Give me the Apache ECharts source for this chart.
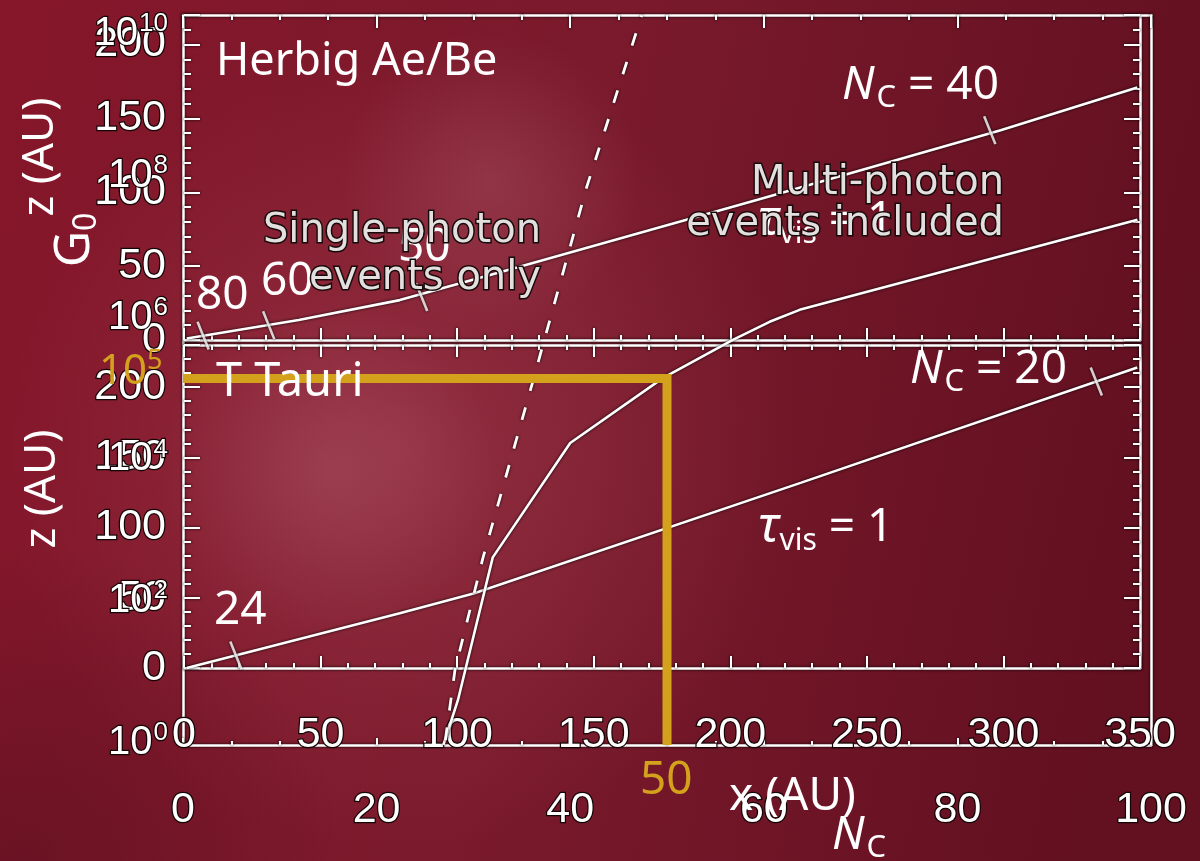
<!DOCTYPE html>
<html>
<head>
<meta charset="utf-8">
<title>Herbig Ae/Be and T Tauri discs</title>
<script src="https://cdn.jsdelivr.net/npm/echarts@6/dist/echarts.min.js"></script>
<style>
html,body{margin:0;padding:0;background:#6d1424;}
#chart{width:1200px;height:861px;}
</style>
</head>
<body>
<div id="chart"></div>
<script>
// ---------------- data ----------------
// tick labels
const xAuTicks = [0, 50, 100, 150, 200, 250, 300, 350];   // x (AU)
const zAuTicks = [0, 50, 100, 150, 200];                  // z (AU)
const ncTicks = [0, 20, 40, 60, 80, 100];                 // N_C
const g0Exponents = [0, 2, 4, 6, 8, 10];                  // G_0 = 10^n

// Herbig Ae/Be panel: surface curve (x, z in AU)
const herbigX = [1, 42, 79, 116, 210, 299, 349];
const herbigZ = [1, 13.5, 27, 46, 95, 142, 171];
// N_C markers on it (80, 60, 50, 40)
const herbigMarkX = [7, 31, 87, 295];
const herbigMarkZ = [3, 10, 29, 142];

// T Tauri panel: surface curve
const tauriX = [1, 79, 106, 226, 349];
const tauriZ = [0, 39, 53, 132, 214];
// N_C markers on it (24, 20)
const tauriMarkX = [19, 334];
const tauriMarkZ = [9, 204];

// G0 vs N_C : solid curve
const solidNc = [26.9, 28.4, 32.0, 40.0, 49.6, 56.8, 60.6, 63.7, 98.6];
const solidG0 = [0.68, 2.9, 300, 1.23e4, 1.02e5, 3.5e5, 6.3e5, 9.3e5, 1.74e7];
// single- / multi-photon boundary (dashed)
const dashNc = [27.1, 28.1, 31.0, 36.1, 41.7, 47.4];
const dashG0 = [0.79, 7.8, 300, 8.7e4, 5.0e7, 1.34e10];
// highlighted point (N_C = 50, G0 = 1e5), vertical leg down to the frame bottom
const highlightNc = 50;
const highlightG0 = 1e5;
const frameBottomG0 = 0.676;

// ---------------- chart ----------------
const zip = (a, b) => a.map((v, i) => [v, b[i]]);

const W = '#ffffff';
const YEL = '#d4a11c';
const FONT_IDL = '"Liberation Sans", Arial, sans-serif';
const outline = { textBorderColor: '#140606', textBorderWidth: 2.5 };
const shadow = { shadowColor: 'rgba(0,0,0,0.95)', shadowBlur: 3 };
const axisLine = { show: true, onZero: false, lineStyle: Object.assign({ color: W, width: 2.5 }, shadow) };
const noLine = { show: false, onZero: false };
const tickStyle = Object.assign({ color: W, width: 2 }, shadow);
const idlLabel = Object.assign({ color: W, fontFamily: FONT_IDL, fontSize: 43 }, outline);
const off = { axisTick: { show: false }, minorTick: { show: false }, splitLine: { show: false }, axisLabel: { show: false } };

function ticks(len, minorLen, split) {
  return {
    axisTick: { show: true, inside: true, length: len, lineStyle: tickStyle },
    minorTick: { show: true, splitNumber: split, length: minorLen, lineStyle: tickStyle }
  };
}

const xAxes = [
  // 0: frame bottom, N_C labels
  Object.assign({
    gridIndex: 0, type: 'value', min: 0, max: 100, interval: 20, position: 'bottom',
    axisLine: axisLine, splitLine: { show: false },
    axisLabel: Object.assign({ margin: 65, verticalAlign: 'middle',
      formatter: v => ncTicks.includes(v) ? String(v) : '' }, idlLabel)
  }, ticks(7, 4, 4)),
  // 1: frame top
  Object.assign({
    gridIndex: 0, type: 'value', min: 0, max: 100, interval: 20, position: 'top',
    axisLine: axisLine, splitLine: { show: false }, axisLabel: { show: false }
  }, ticks(13, 5, 4)),
  // 2: Herbig bottom
  Object.assign({
    gridIndex: 1, type: 'value', min: 0, max: 350, interval: 50, position: 'bottom',
    axisLine: axisLine, splitLine: { show: false }, axisLabel: { show: false }
  }, ticks(12, 5, 5)),
  // 3: T Tauri top
  Object.assign({
    gridIndex: 2, type: 'value', min: 0, max: 350, interval: 50, position: 'top',
    axisLine: axisLine, splitLine: { show: false }, axisLabel: { show: false }
  }, ticks(12, 5, 5)),
  // 4: T Tauri bottom with x (AU) labels
  Object.assign({
    gridIndex: 2, type: 'value', min: 0, max: 350, interval: 50, position: 'bottom',
    axisLine: axisLine, splitLine: { show: false },
    axisLabel: Object.assign({ margin: 67, verticalAlign: 'middle',
      formatter: v => xAuTicks.includes(v) ? String(v) : '' }, idlLabel)
  }, ticks(12, 5, 5)),
  // 5: G0 chart N_C axis (hidden, drawn by frame)
  Object.assign({ gridIndex: 3, type: 'value', min: 0, max: 100, interval: 20, axisLine: noLine }, off)
];

const yAxes = [
  // 0/1: frame left/right lines
  Object.assign({ gridIndex: 0, type: 'value', min: 0, max: 1, position: 'left', axisLine: axisLine }, off),
  Object.assign({ gridIndex: 0, type: 'value', min: 0, max: 1, position: 'right', axisLine: axisLine }, off),
  // 2/3: Herbig z
  Object.assign({
    gridIndex: 1, type: 'value', min: 0, max: 220, interval: 50, position: 'left',
    axisLine: noLine, splitLine: { show: false },
    axisLabel: Object.assign({ margin: 18, padding: [14, 0, 0, 0],
      formatter: v => zAuTicks.includes(v) ? String(v) : '' }, idlLabel)
  }, ticks(16, 7, 5)),
  Object.assign({
    gridIndex: 1, type: 'value', min: 0, max: 220, interval: 50, position: 'right',
    axisLine: axisLine, splitLine: { show: false }, axisLabel: { show: false }
  }, ticks(16, 7, 5)),
  // 4/5: T Tauri z
  Object.assign({
    gridIndex: 2, type: 'value', min: 0, max: 230, interval: 50, position: 'left',
    axisLine: noLine, splitLine: { show: false },
    axisLabel: Object.assign({ margin: 18,
      formatter: v => zAuTicks.includes(v) ? String(v) : '' }, idlLabel)
  }, ticks(16, 7, 5)),
  Object.assign({
    gridIndex: 2, type: 'value', min: 0, max: 230, interval: 50, position: 'right',
    axisLine: axisLine, splitLine: { show: false }, axisLabel: { show: false }
  }, ticks(16, 7, 5)),
  // 6: G0 log axis (data)
  Object.assign({ gridIndex: 3, type: 'log', logBase: 10, min: 1, max: 1e10, position: 'left', axisLine: noLine }, off),
  // 7: G0 decade labels (exponent scale, same geometry as axis 6)
  {
    gridIndex: 3, type: 'value', min: 0, max: 10, interval: 2, position: 'left',
    axisLine: noLine, axisTick: { show: false }, minorTick: { show: false }, splitLine: { show: false },
    axisLabel: {
      margin: 15, padding: [20, 0, 0, 0],
      formatter: v => g0Exponents.includes(v) ? '{b|10}{s|' + v + '}' : '',
      rich: {
        b: Object.assign({ color: W, fontFamily: FONT_IDL, fontSize: 40, lineHeight: 46 }, outline),
        s: Object.assign({ color: W, fontFamily: FONT_IDL, fontSize: 26, lineHeight: 46, verticalAlign: 'top', padding: [0, 0, 0, 1] }, outline)
      }
    }
  }
];

const whiteLine = Object.assign({ color: W, width: 2.6 }, shadow);
const lineSeries = (name, data, xi, yi, extra) => Object.assign({
  name, type: 'line', data, xAxisIndex: xi, yAxisIndex: yi,
  symbol: 'none', showSymbol: false, silent: true, clip: false, z: 5,
  lineStyle: whiteLine
}, extra || {});
const markSeries = (name, data, xi, yi) => ({
  name, type: 'scatter', data, xAxisIndex: xi, yAxisIndex: yi, silent: true, z: 6,
  symbol: 'rect', symbolSize: [2.6, 30], symbolRotate: 22,
  itemStyle: Object.assign({ color: W }, shadow)
});

const series = [
  lineSeries('Herbig Ae/Be', zip(herbigX, herbigZ), 2, 2),
  markSeries('Herbig N_C marks', zip(herbigMarkX, herbigMarkZ), 2, 2),
  lineSeries('T Tauri', zip(tauriX, tauriZ), 4, 4),
  markSeries('T Tauri N_C marks', zip(tauriMarkX, tauriMarkZ), 4, 4),
  lineSeries('G0(N_C)', zip(solidNc, solidG0), 5, 6),
  lineSeries('Photon boundary', zip(dashNc, dashG0), 5, 6,
    { lineStyle: Object.assign({ color: W, width: 2.8, type: [13, 17] }, shadow) }),
  lineSeries('Highlight', [[0, highlightG0], [highlightNc, highlightG0], [highlightNc, frameBottomG0]], 5, 6,
    { z: 20, lineStyle: { color: YEL, width: 9, cap: 'butt', join: 'miter' } })
];

// ---------------- annotations ----------------
const txt = (x, y, text, font, fill, extra) => Object.assign({
  type: 'text', x, y, z: 50, silent: true,
  style: { text, font, fill, align: 'left', verticalAlign: 'middle' }
}, extra || {});
const richTxt = (x, y, text, rich, fill, extra) => Object.assign({
  type: 'text', x, y, z: 50, silent: true,
  style: { text, rich, fill, align: 'left', verticalAlign: 'middle', fontFamily: 'Noto Sans', fontSize: 46 }
}, extra || {});
const slide = (size, style) => ({ fontFamily: 'Noto Sans', fontSize: size, fontStyle: style || 'normal', fill: W, lineHeight: 56 });
const ncRich = { n: slide(46, 'italic'), c: Object.assign(slide(31), { verticalAlign: 'bottom', padding: [0, 0, 0, 2] }), r: slide(46) };
const tauRich = { t: slide(50, 'italic'), v: Object.assign(slide(30), { verticalAlign: 'bottom', padding: [0, 0, 0, 1] }), r: slide(46) };
const grayStyle = (text, x, y) => ({
  type: 'text', x, y, z: 60, silent: true,
  style: { text, font: '40px "DejaVu Sans"', fill: '#e4dfdf', stroke: '#170a0a', lineWidth: 3, align: 'right', verticalAlign: 'middle' }
});
const radial = (c0) => new echarts.graphic.RadialGradient(0.5, 0.5, 0.5, [
  { offset: 0, color: c0 }, { offset: 1, color: c0.replace(/[\d.]+\)$/, '0)') }]);
const gRich = { g: slide(50), o: Object.assign(slide(32), { verticalAlign: 'bottom' }) };

const graphics = [
  { type: 'circle', z: -20, silent: true, shape: { cx: 400, cy: 450, r: 400 }, style: { fill: radial('rgba(175,75,92,0.42)') } },
  { type: 'circle', z: -20, silent: true, shape: { cx: 330, cy: 470, r: 170 }, style: { fill: radial('rgba(200,130,150,0.22)') } },
  { type: 'circle', z: -20, silent: true, shape: { cx: 490, cy: 180, r: 150 }, style: { fill: radial('rgba(215,150,165,0.18)') } },
  { type: 'circle', z: -20, silent: true, shape: { cx: 20, cy: 861, r: 320 }, style: { fill: radial('rgba(60,10,22,0.35)') } },

  txt(216, 62, 'Herbig Ae/Be', '45px "Noto Sans"', W),
  txt(216, 383, 'T Tauri', '47px "Noto Sans"', W),
  richTxt(842, 86, '{n|N}{c|C}{r| = 40}', ncRich, W),
  richTxt(910, 370, '{n|N}{c|C}{r| = 20}', ncRich, W),
  richTxt(758, 528, '{t|τ}{v|vis}{r| = 1}', tauRich, W),
  richTxt(758, 221, '{t|τ}{v|vis}{r| = 1}', tauRich, W, { z: 40 }),
  txt(196, 296, '80', '46px "Noto Sans"', W),
  txt(261, 282, '60', '46px "Noto Sans"', W),
  txt(398, 248, '50', '46px "Noto Sans"', W, { z: 40 }),
  txt(214, 611, '24', '46px "Noto Sans"', W),
  txt(40, 157, 'z (AU)', '44px "Noto Sans"', W, { rotation: Math.PI / 2, style: { text: 'z (AU)', font: '44px "Noto Sans"', fill: W, align: 'center', verticalAlign: 'middle' } }),
  txt(42, 489, 'z (AU)', '44px "Noto Sans"', W, { rotation: Math.PI / 2, style: { text: 'z (AU)', font: '44px "Noto Sans"', fill: W, align: 'center', verticalAlign: 'middle' } }),
  richTxt(75, 240, '{g|G}{o|0}', gRich, W,
    { rotation: Math.PI / 2, style: { text: '{g|G}{o|0}', rich: gRich, align: 'center', verticalAlign: 'middle' } }),
  txt(729, 797, 'x (AU)', '46px "Noto Sans"', W),
  richTxt(832, 836, '{n|N}{c|C}', ncRich, W),
  richTxt(99, 372, '{b|10}{s|5}', {
    b: { fontFamily: 'Noto Sans', fontSize: 42, fill: YEL, lineHeight: 48 },
    s: { fontFamily: 'Noto Sans', fontSize: 27, fill: YEL, lineHeight: 48, verticalAlign: 'top' }
  }, YEL, { z: 30 }),
  txt(640, 781, '50', '46px "Noto Sans"', YEL),
  grayStyle('Single-photon', 541, 232),
  grayStyle('events only', 541, 279),
  grayStyle('Multi-photon', 1004, 184),
  grayStyle('events included', 1004, 225)
];

const chart = echarts.init(document.getElementById('chart'), null, { renderer: 'canvas' });
chart.setOption({
  animation: false,
  backgroundColor: new echarts.graphic.LinearGradient(0, 0, 1, 0.3, [
    { offset: 0, color: '#86162a' }, { offset: 0.5, color: '#7a1a2c' }, { offset: 1, color: '#631021' }]),
  grid: [
    { left: 183, right: 49, top: 15, bottom: 116, containLabel: false, outerBoundsMode: 'none' },
    { left: 184, right: 60, top: 15, bottom: 521, containLabel: false, outerBoundsMode: 'none' },
    { left: 184, right: 60, top: 345, bottom: 193, containLabel: false, outerBoundsMode: 'none' },
    { left: 183, right: 49, top: 24, bottom: 128, containLabel: false, outerBoundsMode: 'none' }
  ],
  xAxis: xAxes,
  yAxis: yAxes,
  series: series,
  graphic: graphics,
  tooltip: { show: false }
});
</script>
</body>
</html>
